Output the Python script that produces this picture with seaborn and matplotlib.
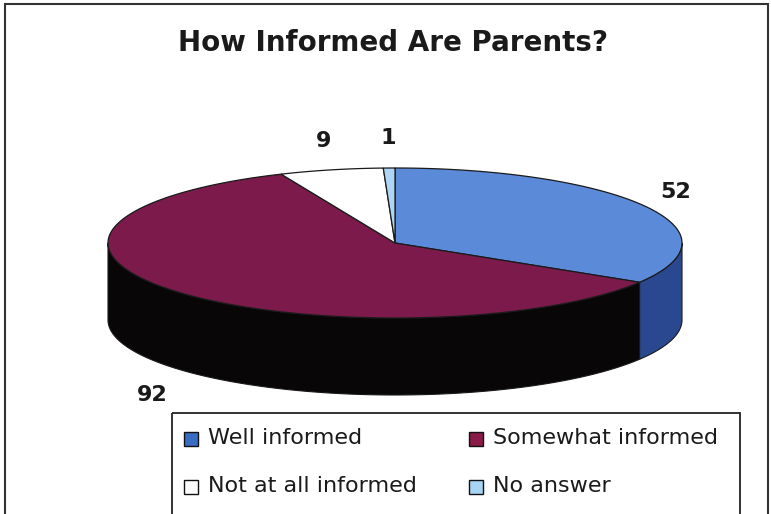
import numpy as np
import matplotlib
matplotlib.use("Agg")
import matplotlib.pyplot as plt
from matplotlib.patches import Polygon, Rectangle
import seaborn as sns

# Survey responses
categories = ["Well informed", "Somewhat informed", "Not at all informed", "No answer"]
counts = [52, 92, 9, 1]

# Fill colours: top face, side wall, legend key
top_colors = ["#5b8ad8", "#7b1a4b", "#ffffff", "#aed6f4"]
side_colors = ["#2a4890", "#080606", "#dddddd", "#7fa8c8"]
key_colors = ["#3a6cc4", "#8a1a48", "#ffffff", "#a8d4f4"]

sns.set_theme(style="white")
plt.rcParams["font.family"] = ["DejaVu Sans"]

fig = plt.figure(figsize=(7.71, 5.14), dpi=100)
ax = fig.add_axes([0, 0, 1, 1])
ax.set_xlim(0, 771)
ax.set_ylim(514, 0)
ax.axis("off")

# Tilted pie geometry (screen units)
cx, cy, rx, ry, depth = 395, 243, 287, 75, 77
edge = "#1a1a1a"


def rim(t_deg, dy=0.0):
    t = np.radians(t_deg)
    return cx + rx * np.cos(t), cy - ry * np.sin(t) + dy


fracs = np.asarray(counts, dtype=float) / sum(counts)
starts = 90 - 360 * np.concatenate([[0], np.cumsum(fracs)[:-1]])
ends = starts - 360 * fracs

# Side walls: only the front half of the disc is visible
for s, e, col in zip(starts, ends, side_colors):
    for k in (-1, 0, 1):
        lo = max(e, -180 + 360 * k)
        hi = min(s, 0 + 360 * k)
        if hi - lo <= 0:
            continue
        t = np.linspace(lo, hi, 120)
        xt, yt = rim(t)
        xb, yb = rim(t[::-1], depth)
        pts = np.column_stack([np.concatenate([xt, xb]), np.concatenate([yt, yb])])
        ax.add_patch(Polygon(pts, closed=True, facecolor=col, edgecolor=edge, lw=0.8))

# Top faces
for s, e, col in zip(starts, ends, top_colors):
    t = np.linspace(s, e, 200)
    xa, ya = rim(t)
    pts = np.column_stack([np.concatenate([[cx], xa]), np.concatenate([[cy], ya])])
    ax.add_patch(Polygon(pts, closed=True, facecolor=col, edgecolor=edge, lw=0.9))

# Value labels outside each slice
for s, e, v in zip(starts, ends, counts):
    m = np.radians((s + e) / 2)
    lx = cx + (rx + 34) * np.cos(m)
    ly = cy - (ry + 30) * np.sin(m)
    if np.sin(m) < 0:
        ly += depth + 6
    ax.text(lx, ly, str(v), ha="center", va="center", fontsize=16,
            fontweight="bold", color="#1a1a1a")

# Title
ax.text(393, 43, "How Informed Are Parents?", ha="center", va="center",
        fontsize=20, fontweight="bold", color="#1a1a1a")

# Legend box with two columns of keys
ax.add_patch(Rectangle((172, 413), 568, 130, facecolor="none", edgecolor="#222222", lw=1.3))
col_x = [184, 469]
row_y = [438, 486]
for i, (name, col) in enumerate(zip(categories, key_colors)):
    x0 = col_x[i % 2]
    y0 = row_y[i // 2]
    ax.add_patch(Rectangle((x0, y0 - 6), 14, 14, facecolor=col, edgecolor="#111111", lw=1.0))
    ax.text(x0 + 24, y0, name, ha="left", va="center", fontsize=16, color="#1a1a1a")

# Outer chart frame
ax.plot([5, 5, 768, 768], [514, 4, 4, 514], color="#333333", lw=1.5, solid_joinstyle="miter")

fig.savefig("out.png", dpi=100)
